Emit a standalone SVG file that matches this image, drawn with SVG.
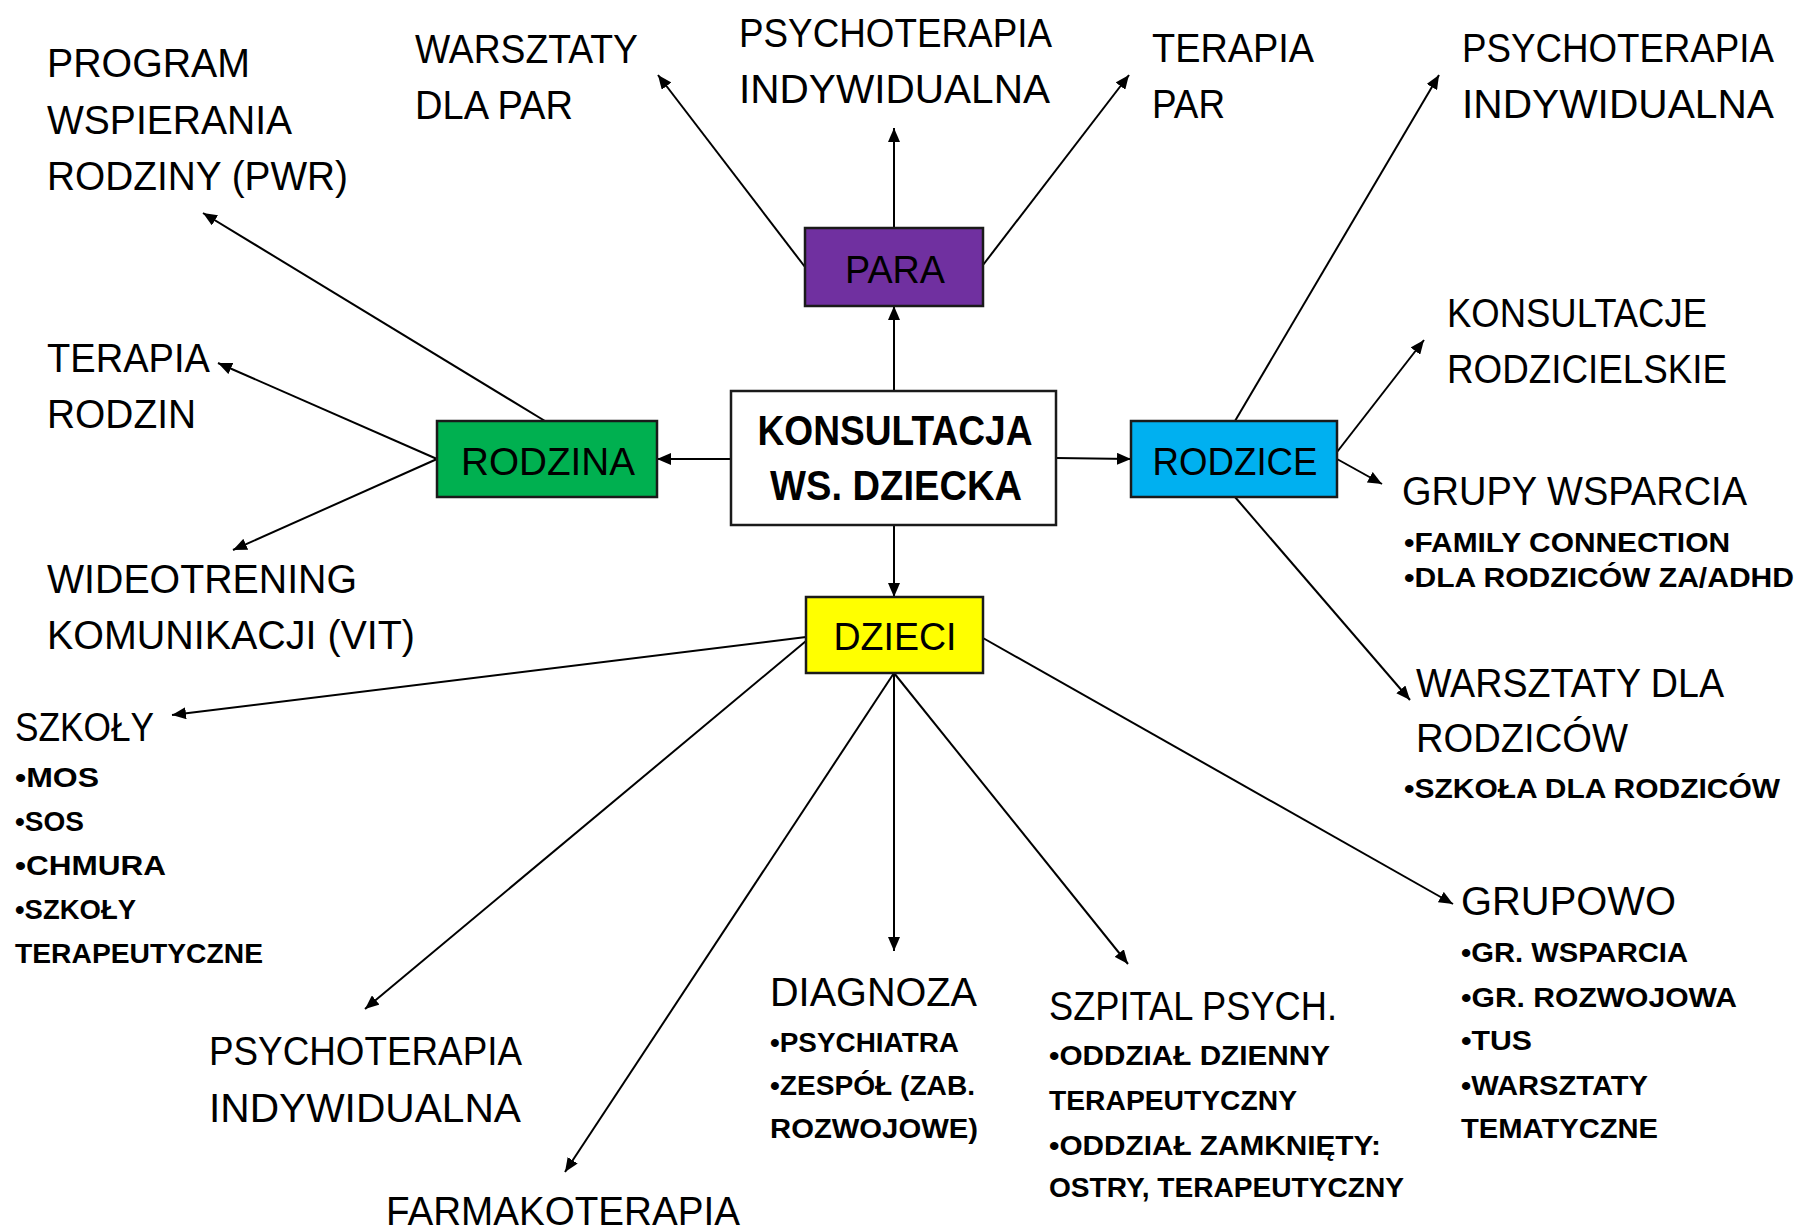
<svg xmlns="http://www.w3.org/2000/svg" width="1802" height="1231" viewBox="0 0 1802 1231">
<style>
text{font-family:"Liberation Sans",Arial,sans-serif;fill:#000}
.big{font-size:41px}
.sm{font-size:27px;font-weight:bold}
.lbl{font-size:38px;text-anchor:middle}
.ctr{font-size:42px;font-weight:bold;text-anchor:middle}
.box{stroke:#1a1a1a;stroke-width:2.5}
.con line{stroke:#000;stroke-width:2;marker-end:url(#ah)}
</style>
<defs>
<marker id="ah" markerUnits="userSpaceOnUse" markerWidth="14" markerHeight="12" refX="14" refY="6" orient="auto">
<path d="M0,0 L14,6 L0,12 z" fill="#000"/>
</marker>
</defs>
<rect width="1802" height="1231" fill="#fff"/>
<g class="con" id="connectors">
<line x1="894" y1="391" x2="894" y2="306"/>
<line x1="731" y1="459" x2="657" y2="459"/>
<line x1="1056" y1="458" x2="1131" y2="459"/>
<line x1="894" y1="525" x2="894" y2="597"/>
<line x1="805" y1="267" x2="658" y2="75"/>
<line x1="894" y1="228" x2="894" y2="128"/>
<line x1="983" y1="265" x2="1129" y2="75"/>
<line x1="545" y1="421" x2="203" y2="213"/>
<line x1="437" y1="459" x2="218" y2="363"/>
<line x1="437" y1="459" x2="233" y2="550"/>
<line x1="1235" y1="421" x2="1439" y2="75"/>
<line x1="1337" y1="452" x2="1424" y2="340"/>
<line x1="1337" y1="459" x2="1382" y2="484"/>
<line x1="1235" y1="497" x2="1410" y2="700"/>
<line x1="806" y1="637" x2="172" y2="715"/>
<line x1="806" y1="641" x2="365" y2="1009"/>
<line x1="894" y1="673" x2="565" y2="1172"/>
<line x1="894" y1="673" x2="894" y2="951"/>
<line x1="894" y1="673" x2="1128" y2="964"/>
<line x1="983" y1="638" x2="1453" y2="904"/>
</g>
<g id="center">
<rect class="box" x="731" y="391" width="325" height="134" fill="#fff"/>
<text class="ctr" x="895" y="445" textLength="275" lengthAdjust="spacingAndGlyphs">KONSULTACJA</text>
<text class="ctr" x="896" y="500" textLength="252" lengthAdjust="spacingAndGlyphs">WS. DZIECKA</text>
</g>
<g id="para">
<rect class="box" x="805" y="228" width="178" height="78" fill="#7030A0"/>
<text class="lbl" x="895" y="283" textLength="100" lengthAdjust="spacingAndGlyphs">PARA</text>
</g>
<g id="rodzina">
<rect class="box" x="437" y="421" width="220" height="76" fill="#00B050"/>
<text class="lbl" x="548" y="475" textLength="174" lengthAdjust="spacingAndGlyphs">RODZINA</text>
</g>
<g id="rodzice">
<rect class="box" x="1131" y="421" width="206" height="76" fill="#00B0F0"/>
<text class="lbl" x="1235" y="475" textLength="165" lengthAdjust="spacingAndGlyphs">RODZICE</text>
</g>
<g id="dzieci">
<rect class="box" x="806" y="597" width="177" height="76" fill="#FFFF00"/>
<text class="lbl" x="895" y="650" textLength="123" lengthAdjust="spacingAndGlyphs">DZIECI</text>
</g>
<g id="pwr">
<text class="big" x="47" y="77" textLength="203" lengthAdjust="spacingAndGlyphs">PROGRAM</text>
<text class="big" x="47" y="134" textLength="245" lengthAdjust="spacingAndGlyphs">WSPIERANIA</text>
<text class="big" x="47" y="190" textLength="301" lengthAdjust="spacingAndGlyphs">RODZINY (PWR)</text>
</g>
<g id="warsztaty-par">
<text class="big" x="415" y="63" textLength="223" lengthAdjust="spacingAndGlyphs">WARSZTATY</text>
<text class="big" x="415" y="119" textLength="158" lengthAdjust="spacingAndGlyphs">DLA PAR</text>
</g>
<g id="psycho-para">
<text class="big" x="739" y="47" textLength="313" lengthAdjust="spacingAndGlyphs">PSYCHOTERAPIA</text>
<text class="big" x="739" y="103" textLength="311" lengthAdjust="spacingAndGlyphs">INDYWIDUALNA</text>
</g>
<g id="terapia-par">
<text class="big" x="1152" y="62" textLength="162" lengthAdjust="spacingAndGlyphs">TERAPIA</text>
<text class="big" x="1152" y="118" textLength="73" lengthAdjust="spacingAndGlyphs">PAR</text>
</g>
<g id="psycho-rodzice">
<text class="big" x="1462" y="62" textLength="312" lengthAdjust="spacingAndGlyphs">PSYCHOTERAPIA</text>
<text class="big" x="1462" y="118" textLength="312" lengthAdjust="spacingAndGlyphs">INDYWIDUALNA</text>
</g>
<g id="konsultacje">
<text class="big" x="1447" y="327" textLength="260" lengthAdjust="spacingAndGlyphs">KONSULTACJE</text>
<text class="big" x="1447" y="383" textLength="280" lengthAdjust="spacingAndGlyphs">RODZICIELSKIE</text>
</g>
<g id="grupy-wsparcia">
<text class="big" x="1402" y="505" textLength="345" lengthAdjust="spacingAndGlyphs">GRUPY WSPARCIA</text>
<text class="sm" x="1404" y="552" textLength="326" lengthAdjust="spacingAndGlyphs">•FAMILY CONNECTION</text>
<text class="sm" x="1404" y="587" textLength="390" lengthAdjust="spacingAndGlyphs">•DLA RODZICÓW ZA/ADHD</text>
</g>
<g id="warsztaty-rodzicow">
<text class="big" x="1416" y="697" textLength="308" lengthAdjust="spacingAndGlyphs">WARSZTATY DLA</text>
<text class="big" x="1416" y="752" textLength="212" lengthAdjust="spacingAndGlyphs">RODZICÓW</text>
<text class="sm" x="1404" y="798" textLength="376" lengthAdjust="spacingAndGlyphs">•SZKOŁA DLA RODZICÓW</text>
</g>
<g id="terapia-rodzin">
<text class="big" x="47" y="372" textLength="163" lengthAdjust="spacingAndGlyphs">TERAPIA</text>
<text class="big" x="47" y="428" textLength="149" lengthAdjust="spacingAndGlyphs">RODZIN</text>
</g>
<g id="wideotrening">
<text class="big" x="47" y="593" textLength="310" lengthAdjust="spacingAndGlyphs">WIDEOTRENING</text>
<text class="big" x="47" y="649" textLength="368" lengthAdjust="spacingAndGlyphs">KOMUNIKACJI (VIT)</text>
</g>
<g id="szkoly">
<text class="big" x="15" y="741" textLength="139" lengthAdjust="spacingAndGlyphs">SZKOŁY</text>
<text class="sm" x="15" y="787" textLength="84" lengthAdjust="spacingAndGlyphs">•MOS</text>
<text class="sm" x="15" y="831" textLength="69" lengthAdjust="spacingAndGlyphs">•SOS</text>
<text class="sm" x="15" y="875" textLength="151" lengthAdjust="spacingAndGlyphs">•CHMURA</text>
<text class="sm" x="15" y="919" textLength="121" lengthAdjust="spacingAndGlyphs">•SZKOŁY</text>
<text class="sm" x="15" y="963" textLength="248" lengthAdjust="spacingAndGlyphs">TERAPEUTYCZNE</text>
</g>
<g id="psycho-dzieci">
<text class="big" x="209" y="1065" textLength="313" lengthAdjust="spacingAndGlyphs">PSYCHOTERAPIA</text>
<text class="big" x="209" y="1122" textLength="312" lengthAdjust="spacingAndGlyphs">INDYWIDUALNA</text>
</g>
<g id="farmakoterapia">
<text class="big" x="386" y="1225" textLength="354" lengthAdjust="spacingAndGlyphs">FARMAKOTERAPIA</text>
</g>
<g id="diagnoza">
<text class="big" x="770" y="1006" textLength="207" lengthAdjust="spacingAndGlyphs">DIAGNOZA</text>
<text class="sm" x="770" y="1052" textLength="189" lengthAdjust="spacingAndGlyphs">•PSYCHIATRA</text>
<text class="sm" x="770" y="1095" textLength="205" lengthAdjust="spacingAndGlyphs">•ZESPÓŁ (ZAB.</text>
<text class="sm" x="770" y="1138" textLength="208" lengthAdjust="spacingAndGlyphs">ROZWOJOWE)</text>
</g>
<g id="szpital">
<text class="big" x="1049" y="1020" textLength="288" lengthAdjust="spacingAndGlyphs">SZPITAL PSYCH.</text>
<text class="sm" x="1049" y="1065" textLength="281" lengthAdjust="spacingAndGlyphs">•ODDZIAŁ DZIENNY</text>
<text class="sm" x="1049" y="1110" textLength="248" lengthAdjust="spacingAndGlyphs">TERAPEUTYCZNY</text>
<text class="sm" x="1049" y="1155" textLength="332" lengthAdjust="spacingAndGlyphs">•ODDZIAŁ ZAMKNIĘTY:</text>
<text class="sm" x="1049" y="1197" textLength="355" lengthAdjust="spacingAndGlyphs">OSTRY, TERAPEUTYCZNY</text>
</g>
<g id="grupowo">
<text class="big" x="1461" y="915" textLength="215" lengthAdjust="spacingAndGlyphs">GRUPOWO</text>
<text class="sm" x="1461" y="962" textLength="227" lengthAdjust="spacingAndGlyphs">•GR. WSPARCIA</text>
<text class="sm" x="1461" y="1007" textLength="276" lengthAdjust="spacingAndGlyphs">•GR. ROZWOJOWA</text>
<text class="sm" x="1461" y="1050" textLength="71" lengthAdjust="spacingAndGlyphs">•TUS</text>
<text class="sm" x="1461" y="1095" textLength="187" lengthAdjust="spacingAndGlyphs">•WARSZTATY</text>
<text class="sm" x="1461" y="1138" textLength="197" lengthAdjust="spacingAndGlyphs">TEMATYCZNE</text>
</g>
</svg>
